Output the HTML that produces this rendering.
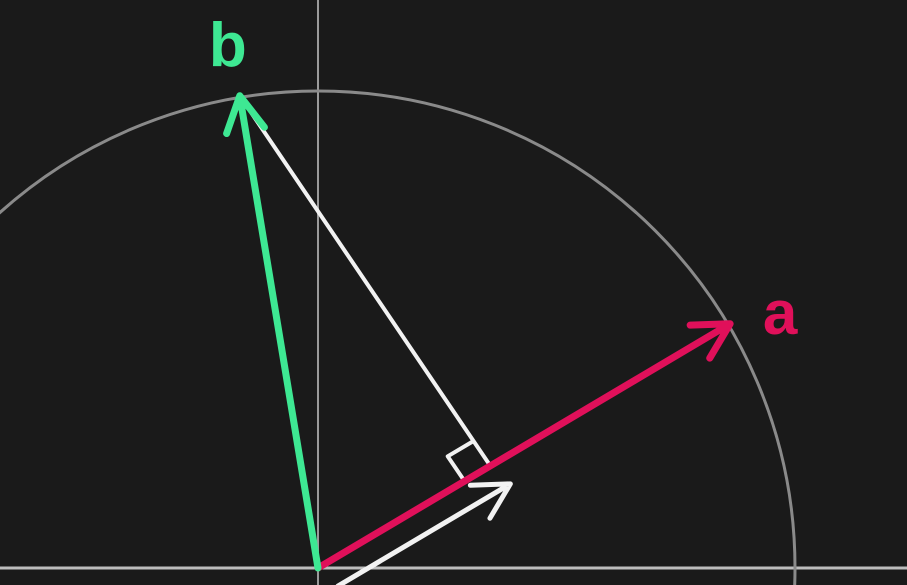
<!DOCTYPE html>
<html><head><meta charset="utf-8"><style>
html,body{margin:0;padding:0;background:#1a1a1a;width:907px;height:585px;overflow:hidden}
svg{display:block;overflow:hidden}
text{font-family:"Liberation Sans",sans-serif}
</style></head><body>
<svg width="907" height="585" viewBox="0 0 907 585">
<rect width="907" height="585" fill="#1a1a1a"/>
<g id="g"></g>
</svg>
<script>
// vector data in unit coordinates
const vecA = [0.864, 0.512];
const vecB = [-0.164, 0.99];
const projLength = [0.42];
const circleRadius = [1.0];
const labels = ["a", "b"];

const ox = 318, oy = 568, S = 477;
const X = u => ox + u * S;
const Y = v => oy - v * S;
const NS = "http://www.w3.org/2000/svg";
const g = document.getElementById('g');
function mk(tag, attrs, name) {
  const e = document.createElementNS(NS, tag);
  for (const k in attrs) e.setAttribute(k, attrs[k]);
  
  
  g.appendChild(e);
  return e;
}
mk('line', {x1: 0, y1: oy, x2: 907, y2: oy, stroke: '#bdbdbd', 'stroke-width': 3}, 'x-axis');
mk('line', {x1: ox, y1: 0, x2: ox, y2: 585, stroke: '#9a9a9a', 'stroke-width': 2}, 'y-axis');
mk('circle', {cx: ox, cy: oy, r: circleRadius[0] * S, fill: 'none', stroke: '#8a8a8a', 'stroke-width': 3}, 'unit-circle');

function arrow(v, color, w, name, offset) {
  const x0 = X(0) + (offset ? offset[0] : 0), y0 = Y(0) + (offset ? offset[1] : 0);
  const x1 = X(v[0]) + (offset ? offset[0] : 0), y1 = Y(v[1]) + (offset ? offset[1] : 0);
  const ang = Math.atan2(y1 - y0, x1 - x0);
  const h = 40, sp = 0.5;
  const ax = x1 - h * Math.cos(ang - sp), ay = y1 - h * Math.sin(ang - sp);
  const bx = x1 - h * Math.cos(ang + sp), by = y1 - h * Math.sin(ang + sp);
  mk('path', {d: `M${x0},${y0}L${x1},${y1}M${ax},${ay}L${x1},${y1}L${bx},${by}`, fill: 'none', stroke: color, 'stroke-width': w, 'stroke-linecap': 'round', 'stroke-linejoin': 'round'}, name);
}
const la = Math.hypot(vecA[0], vecA[1]);
const ua = [vecA[0] / la, vecA[1] / la];
const d = projLength[0];
const proj = [ua[0] * d, ua[1] * d];

mk('line', {x1: X(vecB[0]), y1: Y(vecB[1]), x2: X(proj[0]), y2: Y(proj[1]), stroke: '#f2f2f2', 'stroke-width': 4, 'stroke-linecap': 'round'}, 'perpendicular-line');
const px = X(proj[0]), py = Y(proj[1]);
const dx = ua[0], dy = -ua[1];
const nlen = 30;
const bdx = X(vecB[0]) - px, bdy = Y(vecB[1]) - py, bl = Math.hypot(bdx, bdy);
const ux = bdx / bl, uy = bdy / bl;
const p1 = [px + ux * nlen, py + uy * nlen];
const p2 = [p1[0] - dx * nlen, p1[1] - dy * nlen];
const p3 = [px - dx * nlen, py - dy * nlen];
mk('path', {d: `M${p1[0]},${p1[1]}L${p2[0]},${p2[1]}L${p3[0]},${p3[1]}`, fill: 'none', stroke: '#f2f2f2', 'stroke-width': 4, 'stroke-linejoin': 'round'}, 'right-angle-marker');

arrow(vecA, '#e0105a', 7, 'vector-a');
arrow(vecB, '#3ee893', 7, 'vector-b');
arrow(proj, '#f2f2f2', 5, 'projection-arrow', [20, 18]);

const ta = mk('text', {x: X(vecA[0]) + 50, y: Y(vecA[1]) + 10, fill: '#e0105a', 'font-size': 62, 'font-weight': 'bold', 'text-anchor': 'middle'}, 'label-a');
ta.textContent = labels[0];
const tb = mk('text', {x: X(vecB[0]) - 12, y: Y(vecB[1]) - 30, fill: '#3ee893', 'font-size': 62, 'font-weight': 'bold', 'text-anchor': 'middle'}, 'label-b');
tb.textContent = labels[1];
</script>
</body></html>
